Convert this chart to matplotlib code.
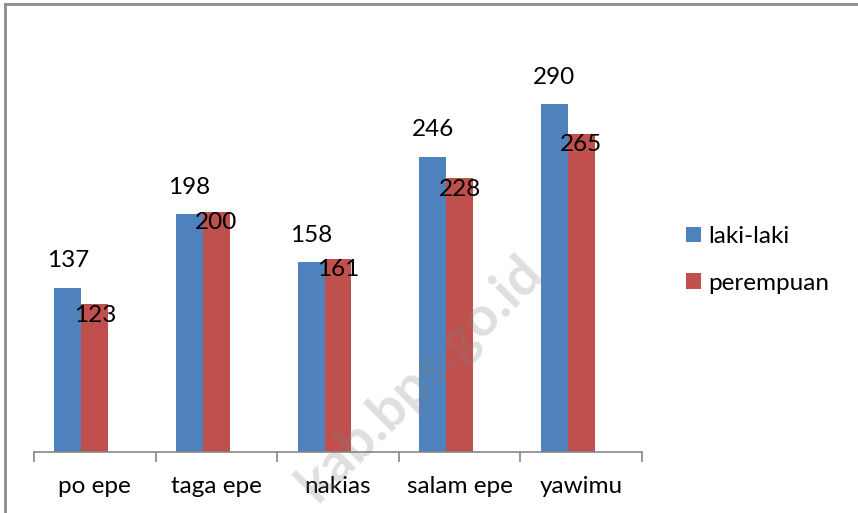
import numpy as np
import matplotlib
matplotlib.use("Agg")
from matplotlib import pyplot as plt
from matplotlib.lines import Line2D

categories = ["po epe", "taga epe", "nakias", "salam epe", "yawimu"]
laki_laki = [137, 198, 158, 246, 290]
perempuan = [123, 200, 161, 228, 265]
series_names = ["laki-laki", "perempuan"]

BLUE = "#4F81BD"
RED = "#C0504D"
plt.rcParams['font.family'] = ['Lato', 'DejaVu Sans']

W, H = 858, 513
fig = plt.figure(figsize=(W/100, H/100), dpi=100)
#plot area in pixels: x 34..642, axis line at y=452, 1.2 px per unit
ax = fig.add_axes([34/W, 1-452/H, 608/W, 420/H])

x = np.arange(len(categories))
bw = 0.222
ax.bar(x - bw, laki_laki, bw, color=BLUE, label=series_names[0])
ax.bar(x, perempuan, bw, color=RED, label=series_names[1])

fs = 17.5
for i in range(len(categories)):
	ax.text(x[i] - bw, laki_laki[i] + 22.5, str(laki_laki[i]), ha='center', va='center', fontsize=fs)
	ax.text(x[i], perempuan[i] - 9, str(perempuan[i]), ha='center', va='center', fontsize=fs)

ax.set_xlim(-0.5, len(categories) - 0.5)
ax.set_ylim(0, 350)
ax.set_yticks([])
for s in ['top', 'right', 'left']:
	ax.spines[s].set_visible(False)
ax.spines['bottom'].set_color('#868686')
ax.spines['bottom'].set_linewidth(1.2)

#boundary ticks as major, names as minor
ax.set_xticks(np.arange(len(categories) + 1) - 0.5)
ax.set_xticklabels([])
ax.tick_params(axis='x', which='major', length=7, width=1.2, color='#868686')
ax.set_xticks(x, minor=True)
ax.set_xticklabels(categories, minor=True, fontsize=fs)
ax.tick_params(axis='x', which='minor', length=0, pad=17)

ax.legend(loc='center left', bbox_to_anchor=(686/W, 1-260/H), bbox_transform=fig.transFigure,
	frameon=False, fontsize=fs, handlelength=0.6, handleheight=0.6, handletextpad=0.3,
	labelspacing=1.05, borderpad=0, borderaxespad=0)

#frame on left and top
fig.add_artist(Line2D([5/W, 5/W], [0, 1-4/H], color='#8c8c8c', lw=2, transform=fig.transFigure))
fig.add_artist(Line2D([5/W, 1], [1-4/H, 1-4/H], color='#8c8c8c', lw=2, transform=fig.transFigure))

#watermark
fig.text(534/W, 1-264/H, "kab.bps.go.id", rotation=45, rotation_mode='anchor', ha='right', va='center',
	fontsize=40, fontweight='bold', color='#808080', alpha=0.25)

fig.savefig("out.png", dpi=100)
